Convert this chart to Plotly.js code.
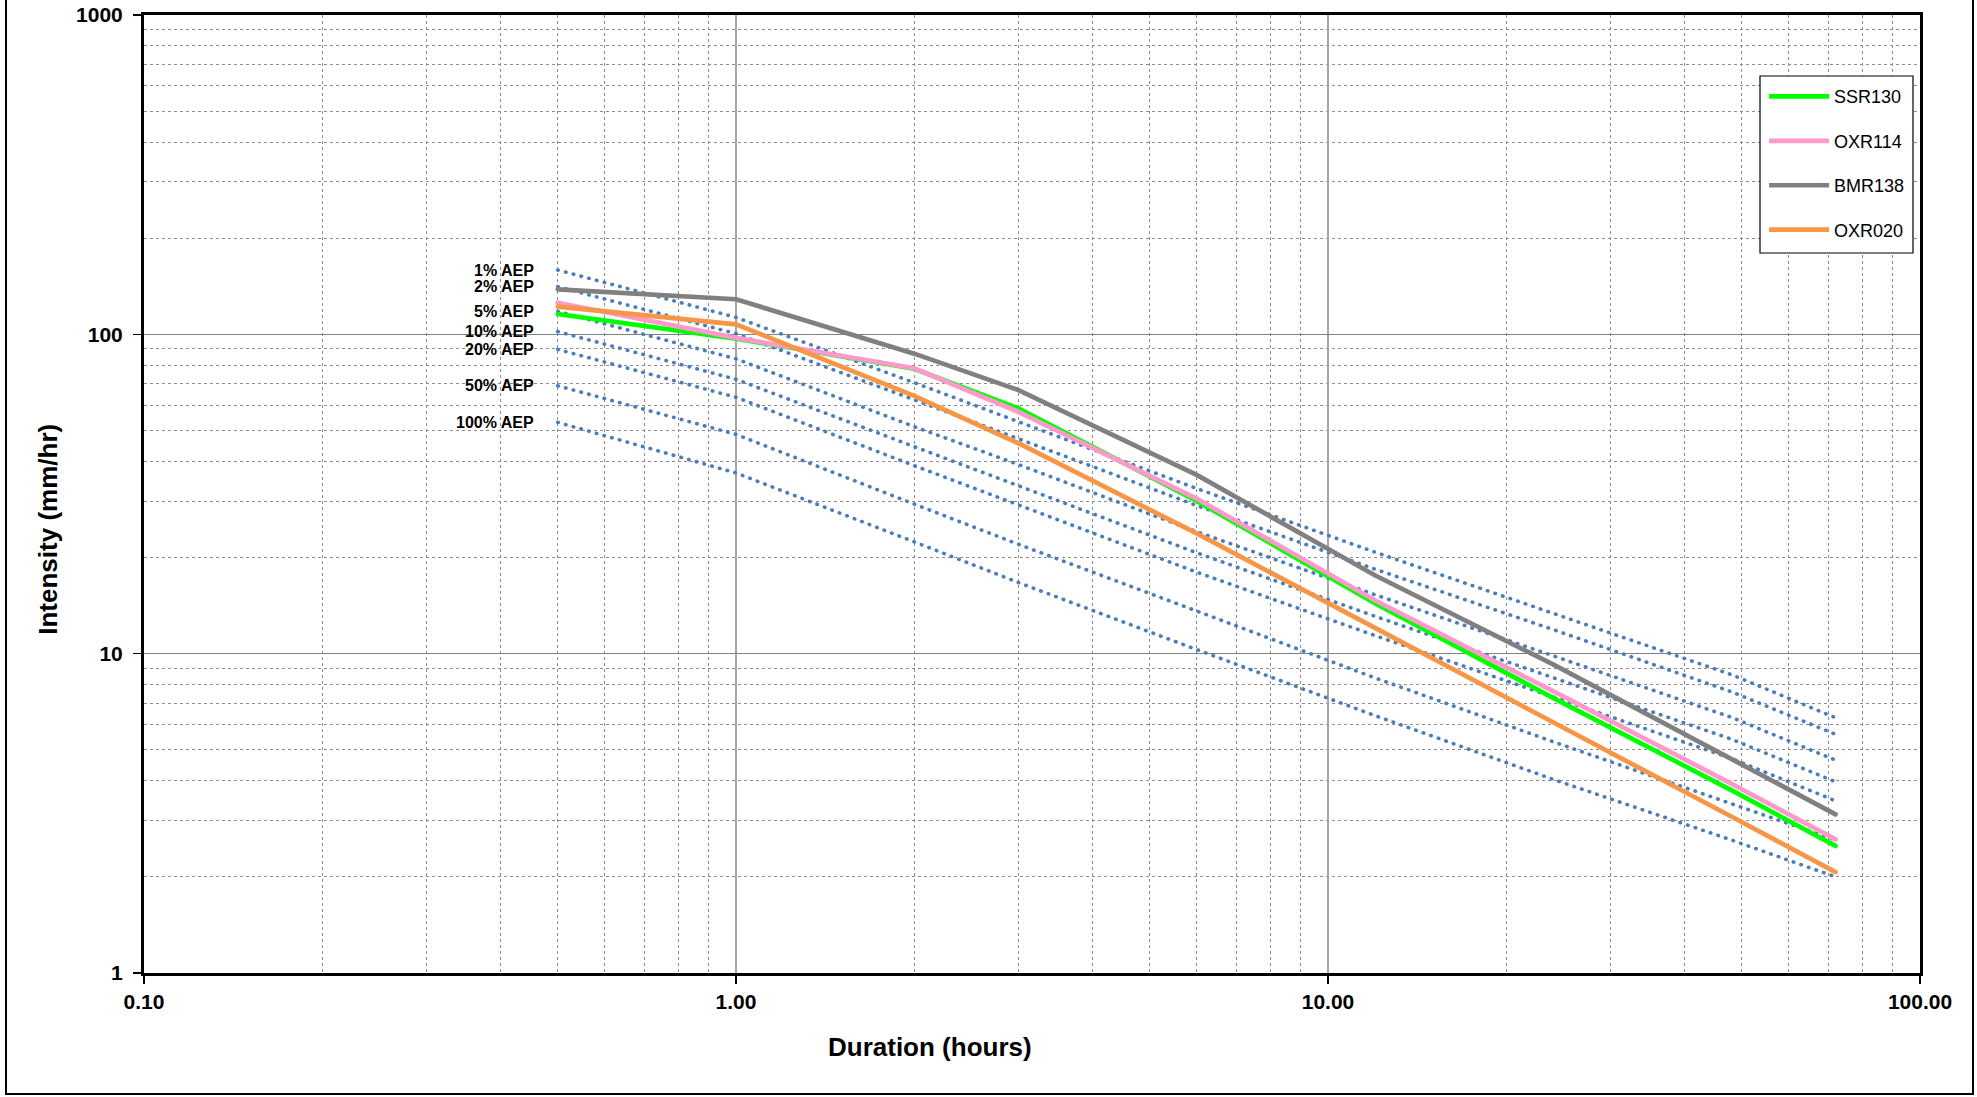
<!DOCTYPE html>
<html>
<head>
<meta charset="utf-8">
<script src="https://cdn.plot.ly/plotly-3.0.1.min.js"></script>
<style>
  html, body { margin: 0; padding: 0; background: #ffffff; overflow: hidden; }
  #wrap { position: relative; width: 1977px; height: 1097px; }
  #chart { position: absolute; left: 0; top: 0; width: 1977px; height: 1097px; }
  #frame { position: absolute; left: 5px; top: -10px; width: 1969px; height: 1105px; border: 2px solid #000; box-sizing: border-box; pointer-events: none; }
  #chart .scatterlayer .js-line { stroke-linecap: round; }
</style>
</head>
<body>
<div id="wrap">
  <div id="chart"></div>
  <div id="frame"></div>
</div>
<script>
// Durations (hours)
const durations = [0.5, 1, 2, 3, 6, 12, 24, 48, 72];

// Site intensity series (mm/hr)
const seriesNames = ['SSR130', 'OXR114', 'BMR138', 'OXR020'];
const ssr130 = [115.8, 97.0, 78.0, 58.6, 30.1, 14.4, 7.27, 3.74, 2.50];
const oxr114 = [125.6, 97.5, 78.3, 57.2, 30.6, 14.7, 7.63, 3.92, 2.62];
const bmr138 = [138.3, 128.8, 87.0, 66.9, 36.3, 17.6, 9.26, 4.67, 3.14];
const oxr020 = [122.1, 107.5, 64.2, 45.6, 23.8, 12.1, 6.10, 3.09, 2.07];

// AEP design intensity curves (mm/hr)
const aepLabels = ['1% AEP', '2% AEP', '5% AEP', '10% AEP', '20% AEP', '50% AEP', '100% AEP'];
const aep1   = [159, 113, 70.6, 53.2, 32.9, 20.8, 13.4, 8.6, 6.30];
const aep2   = [141, 100.5, 62.4, 47.1, 29.1, 18.4, 11.9, 7.6, 5.59];
const aep5   = [118, 83.8, 51.4, 39.1, 24.1, 15.3, 9.85, 6.32, 4.64];
const aep10  = [102, 72.3, 44.5, 33.5, 20.7, 13.1, 8.42, 5.40, 3.97];
const aep20  = [89.7, 63.5, 38.8, 29.2, 18.0, 11.4, 7.33, 4.70, 3.46];
const aep50  = [69.0, 48.6, 29.4, 22.0, 13.6, 8.4, 5.30, 3.38, 2.61];
const aep100 = [53.0, 36.8, 22.4, 16.7, 10.3, 6.4, 4.04, 2.61, 2.00];

// Axis tick labels
const xTickVals = [0.1, 1, 10, 100];
const xTickText = ['0.10', '1.00', '10.00', '100.00'];
const yTickVals = [1, 10, 100, 1000];
const yTickText = ['1', '10', '100', '1000'];

const aepSeries = [aep1, aep2, aep5, aep10, aep20, aep50, aep100];
const seriesVals = [ssr130, oxr114, bmr138, oxr020];
const seriesColors = ['#00ff00', '#ff99cc', '#808080', '#f79646'];

// minor gridline positions (2..9 within each decade)
function minorVals(lo, hi) {
  const out = [];
  for (let d = lo; d < hi; d++) {
    for (let k = 2; k <= 9; k++) out.push(k * Math.pow(10, d));
  }
  return out;
}

const FONT = 'Liberation Sans, Arial, Helvetica, sans-serif';
const traces = [];

aepSeries.forEach((vals, i) => {
  traces.push({
    x: durations, y: vals, type: 'scatter', mode: 'lines',
    name: aepLabels[i], showlegend: false, hoverinfo: 'skip',
    line: { color: '#4a7ebb', width: 3.6, dash: '0.5px,7.5px' }
  });
});

seriesVals.forEach((vals, i) => {
  traces.push({
    x: durations, y: vals, type: 'scatter', mode: 'lines',
    name: seriesNames[i], legendgroup: 'g' + i,
    line: { color: seriesColors[i], width: 4.7 }
  });
});

const annotations = aepSeries.map((vals, i) => ({
  x: Math.log10(durations[0]), y: Math.log10(vals[0]), xref: 'x', yref: 'y',
  text: aepLabels[i], showarrow: false, xanchor: 'right', yanchor: 'middle',
  xshift: -22, font: { family: FONT, size: 16, color: '#000', weight: 'bold' }
}));

annotations.push({
  x: 0.4426, y: -0.077, xref: 'paper', yref: 'paper',
  text: 'Duration (hours)', showarrow: false, xanchor: 'center', yanchor: 'middle',
  font: { family: FONT, size: 26, color: '#000', weight: 'bold' }
});
annotations.push({
  x: -0.054, y: 0.4628, xref: 'paper', yref: 'paper', textangle: -90,
  text: 'Intensity (mm/hr)', showarrow: false, xanchor: 'center', yanchor: 'middle',
  font: { family: FONT, size: 26, color: '#000', weight: 'bold' }
});

const layout = {
  width: 1977, height: 1097,
  margin: { l: 144, r: 57, t: 15, b: 124 },
  paper_bgcolor: 'rgba(0,0,0,0)', plot_bgcolor: '#ffffff',
  font: { family: FONT, color: '#000' },
  showlegend: true,
  legend: {
    x: 0.9122, y: 0.934, xanchor: 'left', yanchor: 'top',
    bgcolor: 'rgba(0,0,0,0)', borderwidth: 0,
    font: { family: FONT, size: 18, color: '#000' },
    tracegroupgap: 18, itemwidth: 60
  },
  shapes: [{
    type: 'rect', xref: 'paper', yref: 'paper',
    x0: (1760 - 144) / 1776, x1: (1913 - 144) / 1776,
    y0: (973 - 253) / 958, y1: (973 - 76) / 958,
    fillcolor: '#ffffff', line: { color: '#000', width: 1.2 }, layer: 'above'
  }],
  xaxis: {
    type: 'log', range: [-1, 2], tickmode: 'array', tickvals: xTickVals, ticktext: xTickText,
    ticks: 'outside', ticklen: 8, tickwidth: 1.5, tickcolor: '#000',
    tickfont: { family: FONT, size: 21, color: '#000', weight: 'bold' },
    showline: true, linecolor: '#000', linewidth: 3, mirror: true,
    showgrid: true, gridcolor: '#a6a6a6', gridwidth: 2, zeroline: false,
    minor: { tickmode: 'array', tickvals: minorVals(-1, 2), ticks: '', showgrid: true, gridcolor: '#8c8c8c', gridwidth: 1, griddash: 'dot' }
  },
  yaxis: {
    type: 'log', range: [0, 3], tickmode: 'array', tickvals: yTickVals, ticktext: yTickText,
    ticks: 'outside', ticklen: 8, tickwidth: 1.5, tickcolor: '#000', ticklabelstandoff: 6,
    tickfont: { family: FONT, size: 21, color: '#000', weight: 'bold' },
    showline: true, linecolor: '#000', linewidth: 3, mirror: true,
    showgrid: true, gridcolor: '#808080', gridwidth: 1, zeroline: false,
    minor: { tickmode: 'array', tickvals: minorVals(0, 3), ticks: '', showgrid: true, gridcolor: '#8c8c8c', gridwidth: 1, griddash: 'dot' }
  },
  annotations: annotations
};

Plotly.newPlot('chart', traces, layout, { displayModeBar: false, staticPlot: true });
</script>
</body>
</html>
